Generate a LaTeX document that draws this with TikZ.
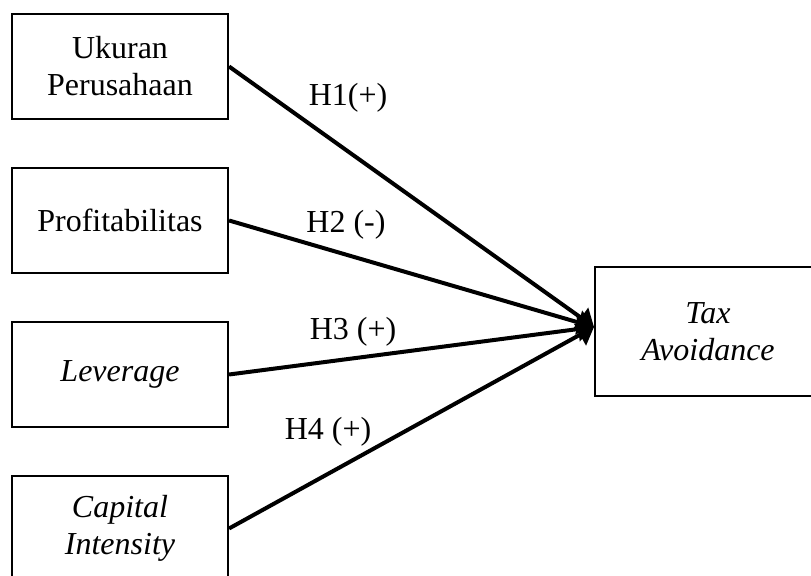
\documentclass[tikz,border=0pt]{standalone}
\usepackage{fontspec}
\setmainfont{Liberation Serif}
\usetikzlibrary{arrows.meta}
\begin{document}
\begin{tikzpicture}[x=0.375pt,y=-0.375pt,font=\fontsize{12}{13.9}\selectfont,
    var/.style={draw,line width=0.8pt,minimum width=81pt,minimum height=39.5pt,align=center,inner sep=0pt},
    hyp/.style={line width=1.5pt,-{Triangle[length=6pt,width=9pt]}}]
    \clip (0,0) rectangle (811,576);
    \node[var] (UP) at (120,66.5) {Ukuran\\Perusahaan};
    \node[var] (PR) at (120,220.5) {Profitabilitas};
    \node[var] (LV) at (120,374.5) {\textit{Leverage}};
    \node[var] (CI) at (120,528.5) {\textit{Capital}\\\textit{Intensity}};
    \node[var,minimum width=85pt,minimum height=48.5pt] (TA) at (708,331.5) {\textit{Tax}\\\textit{Avoidance}};
    \coordinate (tip) at (594,327);
    \draw[hyp] (UP.east) -- (tip); \draw[hyp] (PR.east) -- (tip);
    \draw[hyp] (LV.east) -- (tip); \draw[hyp] (CI.east) -- (tip);
    \node (h1) at (348,98) {H1(+)}; \node (h2) at (346,225) {H2 (-)};
    \node (h3) at (353,332) {H3 (+)}; \node (h4) at (328,432) {H4 (+)};
  \end{tikzpicture}
\end{document}
